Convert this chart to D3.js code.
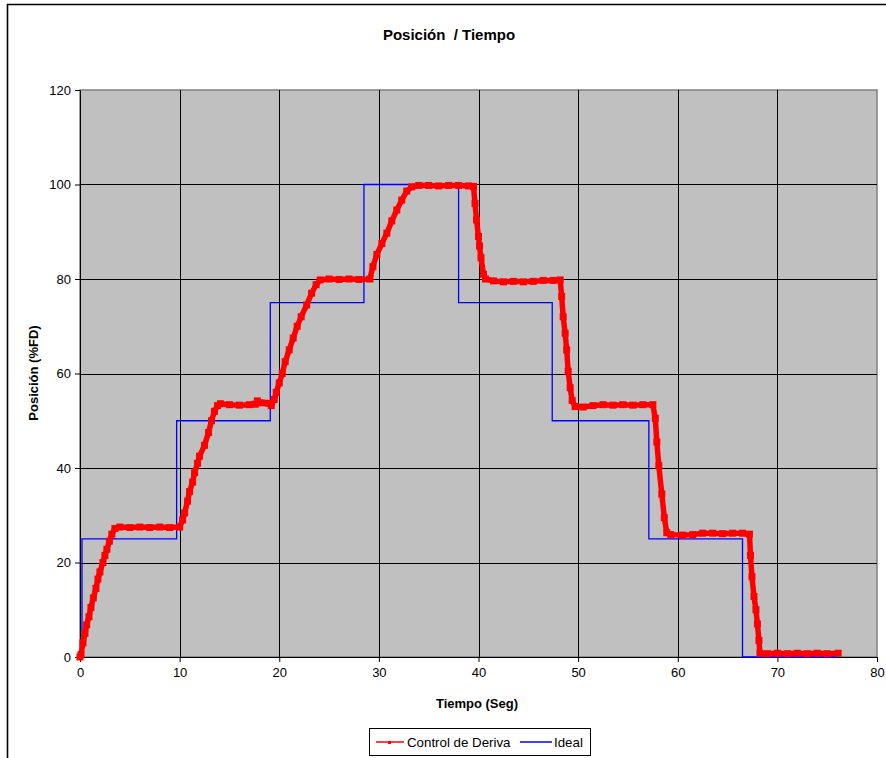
<!DOCTYPE html>
<html>
<head>
<meta charset="utf-8">
<script src="https://cdn.jsdelivr.net/npm/d3@7"></script>
<style>
  html, body { margin: 0; padding: 0; background: #fff; }
  svg { display: block; font-family: "Liberation Sans", Arial, sans-serif; }
  text { white-space: pre; }
</style>
</head>
<body>
<svg id="chart" width="886" height="758"></svg>
<script>
// ---- Data ----
const chartTitle = "Posición  / Tiempo";
const xTitle = "Tiempo (Seg)";
const yTitle = "Posición (%FD)";
const seriesNames = ["Control de Deriva", "Ideal"];
const xTicks = [0, 10, 20, 30, 40, 50, 60, 70, 80];
const yTicks = [0, 20, 40, 60, 80, 100, 120];

const controlTime = [0,0.1,0.3,0.5,0.67,0.9,1.1,1.34,1.6,1.8,2.0,2.3,2.5,2.7,2.95,3.2,3.5,4,5,6,7,8,9,10.0,
  10.3,10.5,10.8,11.0,11.3,11.5,11.8,12.0,12.5,12.9,13.2,13.5,13.8,14.1,15,16,17,17.6,17.8,18.2,18.9,19.2,
  19.5,19.7,20.0,20.3,20.6,21,21.4,21.8,22.2,22.75,23.25,23.7,24.1,25,26,27,28,29.1,
  29.4,29.8,30.3,30.8,31.3,31.8,32.3,32.8,33.3,34,35,36,37,38,39,39.5,
  39.65,39.8,40.0,40.1,40.25,40.5,40.7,41.5,42.5,43.5,44.5,45.5,46.5,47.5,48.2,
  48.35,48.5,48.7,48.85,49.0,49.2,49.4,49.7,50.5,51.5,52.5,53.5,54.5,55.5,56.5,57.5,
  57.75,57.9,58.1,58.4,58.65,58.9,59.3,60.5,61.5,62.5,63.5,64.5,65.5,66.5,67.2,
  67.3,67.45,67.65,67.85,68.0,68.15,68.25,69,70,71,72,73,74,75,76.1];
const controlValue = [0,0.5,3,5,6.8,8.5,10.5,12.5,14.5,16.5,18,20,21.5,22.8,24.5,26,27.2,27.5,27.4,27.5,27.4,27.5,27.4,27.5,
  29,30.5,33,35,37,39,41,42.5,44.8,47.5,50,52,53.2,53.6,53.4,53.3,53.4,53.5,54.2,53.8,53.7,53.2,
  54.5,56,58,60,62.5,65,67.5,70,72,74.5,77,78.8,79.8,80,79.9,80,79.9,80,
  82.6,85.2,87.5,89.7,92.3,94.6,96.7,98.6,99.5,99.8,99.8,99.7,99.8,99.8,99.7,99.6,
  96,92.5,89,87,84.5,81,80,79.6,79.4,79.5,79.4,79.5,79.7,79.7,79.8,
  76.3,72,68.5,65,60.5,57,54.3,53,52.9,53.2,53.4,53.3,53.4,53.3,53.4,53.4,
  50.5,45.5,40.5,34.5,29.5,26.3,25.9,25.8,25.9,26.2,26.2,26.1,26.2,26.2,26.0,
  21.5,17,12.8,10,7,3.5,0.8,0.7,0.8,0.7,0.8,0.7,0.8,0.7,0.8];

const idealTime  = [0, 0.2, 9.7, 19.1, 28.5, 38.0, 47.4, 57.1, 66.5, 76.1];
const idealValue = [0, 25, 50, 75, 100, 75, 50, 25, 0, 0];

// ---- Chart ----
const svg = d3.select("#chart");
const W = 886, H = 758;
svg.append("rect").attr("width", W).attr("height", H).attr("fill", "#fff");

// outer frame (left & top visible)
svg.append("path")
  .attr("d", "M7.5,758 L7.5,4.5 L886,4.5")
  .attr("fill", "none").attr("stroke", "#000").attr("stroke-width", 1.6);

const x = d3.scaleLinear().domain([0, 80]).range([80, 877]);
const y = d3.scaleLinear().domain([0, 120]).range([657, 90]);

// plot area
svg.append("rect")
  .attr("x", x(0)).attr("y", y(120))
  .attr("width", x(80) - x(0)).attr("height", y(0) - y(120))
  .attr("fill", "#C0C0C0").attr("stroke", "#808080").attr("stroke-width", 1.5);

// gridlines
const grid = svg.append("g");
grid.selectAll("line.h").data(yTicks.filter(d => d > 0 && d < 120)).join("line")
  .attr("x1", x(0)).attr("x2", x(80))
  .attr("y1", d => Math.round(y(d)) + 0.5).attr("y2", d => Math.round(y(d)) + 0.5)
  .attr("stroke", "#000").attr("stroke-width", 1);
grid.selectAll("line.v").data(xTicks.filter(d => d > 0 && d < 80)).join("line")
  .attr("y1", y(0)).attr("y2", y(120))
  .attr("x1", d => Math.round(x(d)) + 0.5).attr("x2", d => Math.round(x(d)) + 0.5)
  .attr("stroke", "#000").attr("stroke-width", 1);

// axes
const yAxis = svg.append("g").attr("transform", `translate(${x(0)},0)`)
  .call(d3.axisLeft(y).tickValues(yTicks).tickSize(5).tickPadding(4));
const xAxis = svg.append("g").attr("transform", `translate(0,${y(0)})`)
  .call(d3.axisBottom(x).tickValues(xTicks).tickSize(5).tickPadding(6));
[yAxis, xAxis].forEach(a => {
  a.selectAll("path.domain").attr("stroke", "#000").attr("stroke-width", 1);
  a.selectAll(".tick line").attr("stroke", "#000");
  a.selectAll("text").attr("font-size", 13).attr("fill", "#000")
    .attr("font-family", "'Liberation Sans', Arial, sans-serif");
});

// Ideal line
const idealData = idealTime.map((t, i) => [t, idealValue[i]]);
svg.append("path")
  .datum(idealData)
  .attr("fill", "none").attr("stroke", "#0000FF").attr("stroke-width", 1.3)
  .attr("d", d3.line().x(d => x(d[0])).y(d => y(d[1])).curve(d3.curveStepAfter));

// Control de Deriva line
const controlData = controlTime.map((t, i) => [t, controlValue[i]]);
svg.append("path")
  .datum(controlData)
  .attr("fill", "none").attr("stroke", "#FF0000").attr("stroke-width", 5.5)
  .attr("stroke-linejoin", "round")
  .attr("d", d3.line().x(d => x(d[0])).y(d => y(d[1])));
svg.append("g").selectAll("rect").data(controlData).join("rect")
  .attr("x", d => x(d[0]) - 3.5).attr("y", d => y(d[1]) - 3.5)
  .attr("width", 7).attr("height", 7).attr("fill", "#FF0000");

// titles
svg.append("text").attr("x", 449).attr("y", 40).attr("text-anchor", "middle")
  .attr("font-size", 15).attr("font-weight", "bold").text(chartTitle);
svg.append("text").attr("x", 477).attr("y", 708).attr("text-anchor", "middle")
  .attr("font-size", 13).attr("font-weight", "bold").text(xTitle);
svg.append("text").attr("transform", "translate(38,373) rotate(-90)").attr("text-anchor", "middle")
  .attr("font-size", 13).attr("font-weight", "bold").text(yTitle);

// legend
const lg = svg.append("g");
lg.append("rect").attr("x", 369.5).attr("y", 728.5).attr("width", 221).attr("height", 27)
  .attr("fill", "#fff").attr("stroke", "#000").attr("stroke-width", 1);
lg.append("line").attr("x1", 376).attr("x2", 404).attr("y1", 742).attr("y2", 742)
  .attr("stroke", "#FF0000").attr("stroke-width", 1.5);
lg.append("rect").attr("x", 388).attr("y", 741).attr("width", 3).attr("height", 3).attr("fill", "#FF0000");
lg.append("text").attr("x", 407).attr("y", 746.5).attr("font-size", 13.3).text(seriesNames[0]);
lg.append("line").attr("x1", 520).attr("x2", 552).attr("y1", 742).attr("y2", 742)
  .attr("stroke", "#0000FF").attr("stroke-width", 1.5);
lg.append("text").attr("x", 554).attr("y", 746.5).attr("font-size", 13.3).text(seriesNames[1]);
</script>
</body>
</html>
